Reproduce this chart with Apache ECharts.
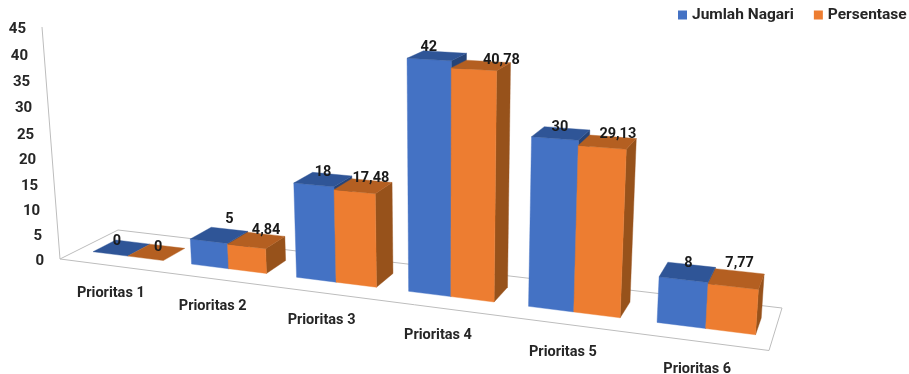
<!DOCTYPE html>
<html><head><meta charset="utf-8">
<style>html,body{margin:0;padding:0;background:#fff}#c{width:909px;height:374px}</style>
<script src="https://cdn.jsdelivr.net/npm/echarts@6/dist/echarts.min.js"></script>
</head><body><div id="c"></div>
<script>
var categories = ['Prioritas 1','Prioritas 2','Prioritas 3','Prioritas 4','Prioritas 5','Prioritas 6'];
var jumlahNagari = [0,5,18,42,30,8];
var persentase = [0,4.84,17.48,40.78,29.13,7.77];
var jumlahLabels = ['0','5','18','42','30','8'];
var persentaseLabels = ['0','4,84','17,48','40,78','29,13','7,77'];
var yTicks = [0,5,10,15,20,25,30,35,40,45];
var FONT = 'Roboto';
var TXT = '#262626';
var AX = '#bdbdbd';

// camera: floor quad corners (u,v): (0,0) (1,0) (1,1) (0,1) and vertical vanishing point
var Q = [[60,259],[769,350.5],[782,308],[118,230]];
var VP = [442,5182], K = -0.00100;
var H = (function(){
  var x0=Q[0][0],y0=Q[0][1],x1=Q[1][0],y1=Q[1][1],x2=Q[2][0],y2=Q[2][1],x3=Q[3][0],y3=Q[3][1];
  var dx1=x1-x2,dx2=x3-x2,sx=x0-x1+x2-x3,dy1=y1-y2,dy2=y3-y2,sy=y0-y1+y2-y3;
  var den=dx1*dy2-dx2*dy1;
  var g=(sx*dy2-dx2*sy)/den,h=(dx1*sy-sx*dy1)/den;
  return [x1-x0+g*x1,x3-x0+h*x3,x0,y1-y0+g*y1,y3-y0+h*y3,y0,g,h,1];
})();
function proj(u,v,w){
  var X=H[0]*u+H[1]*v+H[2]+w*K*VP[0];
  var Y=H[3]*u+H[4]*v+H[5]+w*K*VP[1];
  var Z=H[6]*u+H[7]*v+H[8]+w*K;
  return [X/Z,Y/Z];
}
var V0=0.3,V1=0.7,PAIR=0.72,USHIFT=0.0025;
// hand placement of the data labels in the picture (pixels, per category)
var nudgeA=[[-16,7],[0,-2],[-9,6],[-16,3],[-7,7],[-3,6]];
var nudgeB=[[-9,9],[0,4],[-1,5],[13,6],[5,5],[0,0]];

function uw(api,i,val){
  var c=api.coord([i,val]);
  return {u:c[0]/api.getWidth()+USHIFT,w:(api.getHeight()-c[1])/api.getHeight()*45,b:api.size([1,0])[0]/api.getWidth()};
}
function quad(pts,fill){
  return {type:'polygon',shape:{points:pts},style:{fill:fill,stroke:fill,lineWidth:0.4}};
}
function barRender(side,front,top,dark,labels,nudge){
  return function(params,api){
    var i=api.value(0),val=api.value(1),p=uw(api,i,val);
    var bw=p.b*PAIR/2;
    var a=side===0?p.u-bw:p.u,b=a+bw,w=p.w;
    var ch=[];
    if(w>0){
      ch.push(quad([proj(b,V0,0),proj(b,V1,0),proj(b,V1,w),proj(b,V0,w)],dark));
      ch.push(quad([proj(a,V0,0),proj(b,V0,0),proj(b,V0,w),proj(a,V0,w)],front));
    }
    ch.push(quad([proj(a,V0,w),proj(b,V0,w),proj(b,V1,w),proj(a,V1,w)],top));
    var l=proj((a+b)/2,V1,w);
    ch.push({type:'text',z2:100,x:l[0]+nudge[i][0],y:l[1]+nudge[i][1],style:{text:labels[i],font:'bold 14.5px '+FONT,fill:'#1a1a1a',align:'center',verticalAlign:'bottom'}});
    return {type:'group',children:ch};
  };
}
function frameRender(params,api){
  var ch=[];
  var c=[[0,0],[1,0],[1,1],[0,1]].map(function(q){return proj(q[0],q[1],0)});
  ch.push({type:'polygon',shape:{points:c},style:{fill:'none',stroke:AX,lineWidth:1}});
  ch.push({type:'line',shape:{x1:c[0][0],y1:c[0][1],x2:proj(0,0,45)[0],y2:proj(0,0,45)[1]},style:{stroke:AX,lineWidth:1}});
  yTicks.forEach(function(t){
    var p=proj(0,0,(api.getHeight()-api.coord([0,t])[1])/api.getHeight()*45);
    ch.push({type:'text',x:p[0]-16,y:p[1]+2,style:{text:String(t),font:'bold 15px '+FONT,fill:TXT,align:'right',verticalAlign:'middle'}});
  });
  categories.forEach(function(n,i){
    var u=api.coord([i,0])[0]/api.getWidth();
    var p=proj(u,0,0);
    ch.push({type:'text',x:p[0]+2-i*0.5,y:p[1]+28,style:{text:n,font:'bold 14.5px '+FONT,fill:TXT,align:'center',verticalAlign:'middle'}});
  });
  return {type:'group',children:ch};
}
var chart=echarts.init(document.getElementById('c'),null,{renderer:'canvas'});
chart.setOption({
  animation:false,
  grid:{left:0,right:0,top:0,bottom:0},
  xAxis:{type:'category',data:categories,show:false},
  yAxis:{type:'value',min:0,max:45,interval:5,show:false},
  legend:{data:[{name:'Jumlah Nagari',itemStyle:{color:'#4472C4'}},{name:'Persentase',itemStyle:{color:'#ED7D31'}}],
    left:678,top:7,itemWidth:9,itemHeight:9,itemGap:20,padding:0,icon:'rect',
    textStyle:{fontFamily:FONT,fontWeight:'bold',fontSize:15.5,color:TXT},selectedMode:false},
  series:[
    {type:'custom',name:'frame',z:1,renderItem:frameRender,data:[[0,0]],encode:{x:0,y:1},silent:true},
    {type:'custom',name:'Jumlah Nagari',z:2,itemStyle:{color:'#4472C4'},
     renderItem:barRender(0,'#4472C4','#2F5597','#264478',jumlahLabels,nudgeA),
     data:jumlahNagari.map(function(v,i){return [i,v]}),encode:{x:0,y:1}},
    {type:'custom',name:'Persentase',z:3,itemStyle:{color:'#ED7D31'},
     renderItem:barRender(1,'#ED7D31','#B45F21','#97521B',persentaseLabels,nudgeB),
     data:persentase.map(function(v,i){return [i,v]}),encode:{x:0,y:1}}
  ]
});
</script></body></html>
